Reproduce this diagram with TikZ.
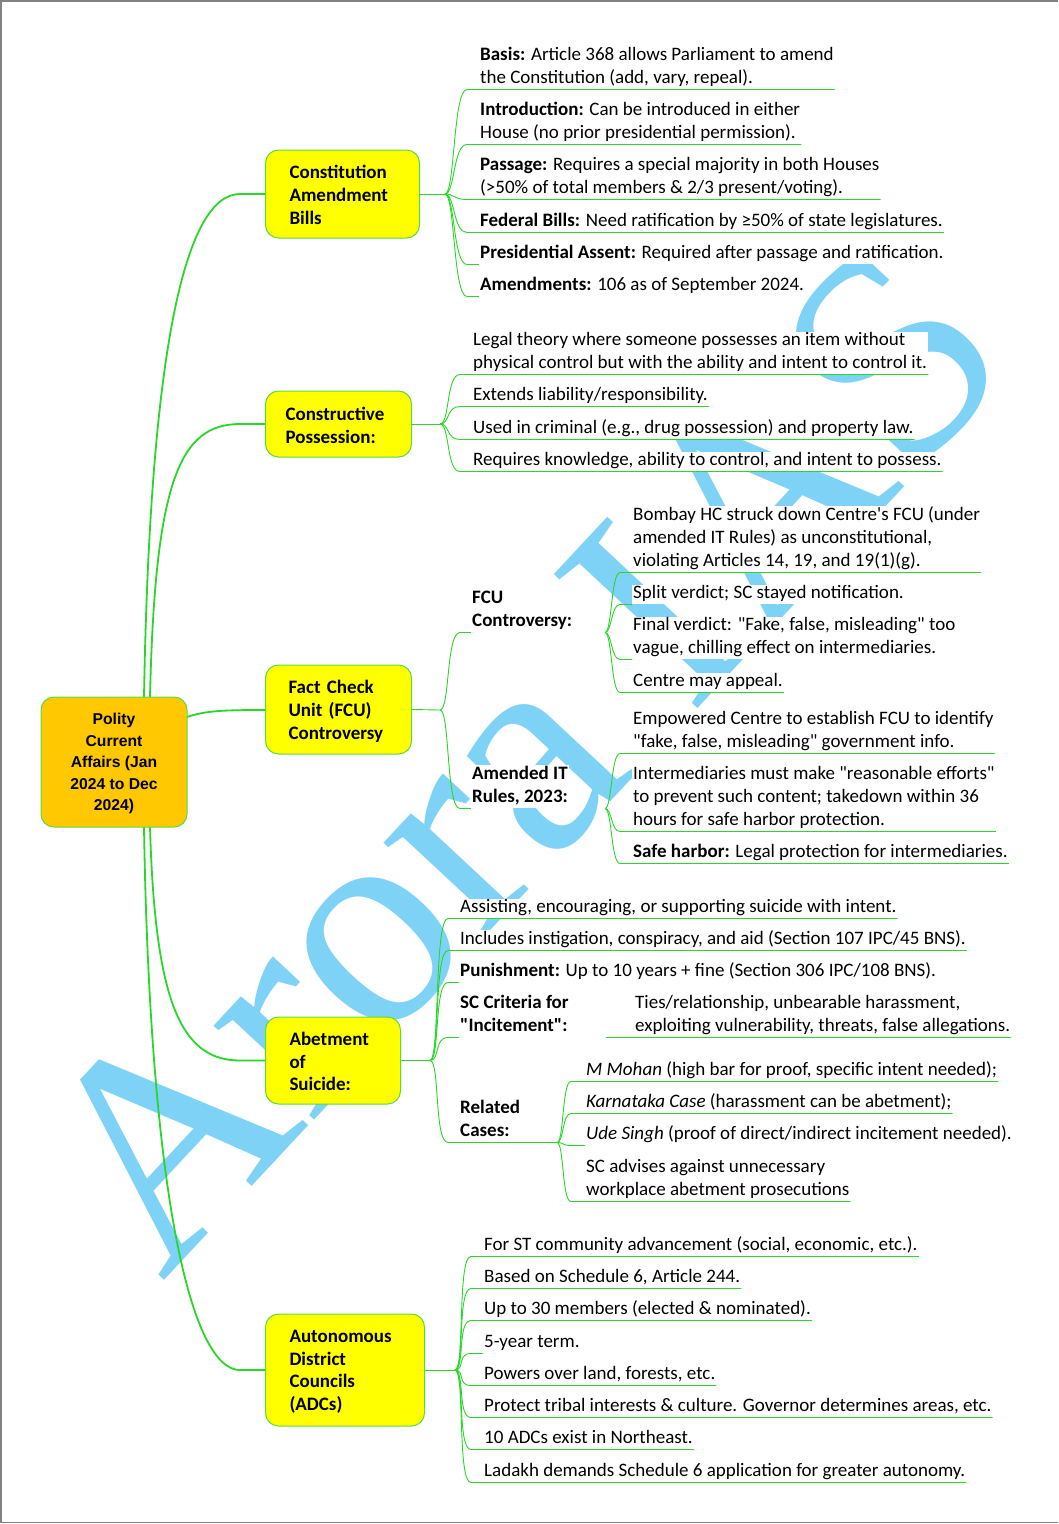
\documentclass[tikz,border=0pt]{standalone}
\usepackage{fontspec}
\setmainfont{Carlito}[Ligatures=TeXOff]
\newfontfamily\rootfont{Liberation Sans}
\newfontfamily\wmfont{Liberation Serif}
\definecolor{lnk}{RGB}{40,215,40}
\definecolor{bxline}{RGB}{90,220,60}
\definecolor{topicy}{RGB}{255,255,0}
\definecolor{rooto}{RGB}{255,200,0}
\definecolor{wmblue}{RGB}{126,210,246}
\definecolor{framegray}{RGB}{130,130,130}
\newcommand{\dst}{\rule[-4.5pt]{0pt}{4.5pt}}
\newcommand{\brch}[3]{\draw[sub] (#1) .. controls +(10,0) and +(-14,0) .. ([xshift=-#3pt]#2.south west) -- (#2.south east);}
\newcommand{\stb}[3]{\draw[sub] (#1) .. controls +(10,0) and +(-14,0) .. ([xshift=-#3pt]#2.south west) -- (#2.south west);}
\newcommand{\sbrch}[3]{\draw[sub] (#1) .. controls +(7,0) and +(-9,0) .. ([xshift=-#3pt]#2.south west) -- (#2.south east);}
\newcommand{\sstb}[3]{\draw[sub] (#1) .. controls +(7,0) and +(-9,0) .. ([xshift=-#3pt]#2.south west) -- (#2.south west);}
\begin{document}
\begin{tikzpicture}[x=1pt,y=-1pt,
 main/.style={draw=lnk, line width=1.8pt},
 sub/.style={draw=lnk, line width=0.9pt},
 topic/.style={draw=bxline, line width=1pt, fill=topicy, rounded corners=13pt, anchor=west, align=left,
   font=\fontsize{19}{23}\selectfont\bfseries, inner ysep=0pt},
 itm/.style={anchor=south west, inner xsep=1pt, inner ysep=1pt, align=left, fill=white,
   font=\fontsize{19}{23}\selectfont},
 sublabel/.style={itm, font=\fontsize{19}{23}\selectfont\bfseries},
]
\useasboundingbox (0,0) rectangle (1058,1524);
% watermark
\node[text=wmblue, font=\wmfont\fontsize{300}{300}\selectfont, rotate=47, inner sep=0pt] (wm) at (520,756) {Arora IAS};
% frame
\draw[framegray, line width=1.5pt] (1058,1) -- (1,1) -- (1,1522.5) -- (1058,1522.5);

% coordinates for forks
\coordinate (fc) at (445,194);
\coordinate (fp) at (440,424);
\coordinate (ff) at (440,710);
\coordinate (ffa) at (605,632.5);
\coordinate (ffb) at (605,808.5);
\coordinate (fa) at (430,1060.5);
\coordinate (far) at (557,1142.5);
\coordinate (fd) at (455,1370);

% main connectors
\coordinate (r1) at (144,697);
\coordinate (r2) at (150,697);
\coordinate (r3) at (150,827);
\coordinate (r4) at (144,827);
\coordinate (r5) at (187,717);
\draw[main] (r1) .. controls (150,350) and (185,194) .. (240,194) -- (265,194);
\draw[main] (r2) .. controls (155,480) and (180,424) .. (240,424) -- (265,424);
\draw[main] (r5) .. controls (205,711) and (220,710) .. (265,710);
\draw[main] (r3) .. controls (155,1000) and (180,1060.5) .. (240,1060.5) -- (265,1060.5);
\draw[main] (r4) .. controls (150,1200) and (192,1370) .. (240,1370) -- (265,1370);

% root
\node[draw=bxline, line width=1pt, fill=rooto, rounded corners=13pt, minimum width=146pt, minimum height=130pt,
  align=center, font=\rootfont\fontsize{15.7}{21.5}\selectfont\bfseries, inner sep=0pt]
  (root) at (114,762) {\strut Polity\\Current\\Affairs (Jan\\2024 to Dec\\2024)};

% topics
\node[topic, inner xsep=24pt, text width=106pt, minimum height=88pt] (cab) at (265,194) {\strut Constitution\\Amendment\\Bills};
\node[topic, inner xsep=20pt, text width=106pt, minimum height=66pt] (cp) at (265,424) {\strut Constructive\\Possession:};
\node[topic, inner xsep=23pt, text width=100pt, minimum height=89pt] (fcu) at (265,709.5) {\strut Fact Check\\Unit (FCU)\\Controversy};
\node[topic, inner xsep=24pt, text width=87pt, minimum height=87pt, font=\fontsize{19}{22.5}\selectfont\bfseries] (as) at (265,1060.5) {\strut Abetment\\of\\Suicide:};
\node[topic, inner xsep=24pt, text width=111pt, minimum height=112pt, font=\fontsize{19}{22.7}\selectfont\bfseries] (adc) at (265,1370) {\strut Autonomous\\District\\Councils\\(ADCs)};

% topic to fork
\draw[sub] (cab.east) -- (fc);
\draw[sub] (cp.east) -- (fp);
\draw[sub] (fcu.east) -- (ff);
\draw[sub] (as.east) -- (fa);
\draw[sub] (adc.east) -- (fd);

% Constitution items
\node[itm] (c1) at (479,89.5) {\textbf{Basis:} Article 368 allows Parliament to amend\\the Constitution (add, vary, repeal).\dst};
\node[itm] (c2) at (479,144.5) {\textbf{Introduction:} Can be introduced in either\\House (no prior presidential permission).\dst};
\node[itm] (c3) at (479,199.5) {\textbf{Passage:} Requires a special majority in both Houses\\(>50\% of total members \& 2/3 present/voting).\dst};
\node[itm] (c4) at (479,232.5) {\textbf{Federal Bills:} Need ratification by ≥50\% of state legislatures.\dst};
\node[itm] (c5) at (479,264.5) {\textbf{Presidential Assent:} Required after passage and ratification.\dst};
\node[itm] (c6) at (479,296.5) {\textbf{Amendments:} 106 as of September 2024.\dst};
\brch{fc}{c1}{12}
\brch{fc}{c2}{12}
\brch{fc}{c3}{12}
\brch{fc}{c4}{12}
\stb{fc}{c5}{12}
\stb{fc}{c6}{12}

% Constructive possession items
\node[itm] (p1) at (472,374.5) {Legal theory where someone possesses an item without\\physical control but with the ability and intent to control it.\dst};
\node[itm] (p2) at (472,406.5) {Extends liability/responsibility.\dst};
\node[itm] (p3) at (472,439.5) {Used in criminal (e.g., drug possession) and property law.\dst};
\node[itm] (p4) at (472,471.5) {Requires knowledge, ability to control, and intent to possess.\dst};
\brch{fp}{p1}{12}
\brch{fp}{p2}{12}
\brch{fp}{p3}{12}
\brch{fp}{p4}{12}

% FCU
\node[sublabel] (fl1) at (471,632.5) {FCU\\Controversy:\dst};
\node[sublabel] (fl2) at (471,808.5) {Amended IT\\Rules, 2023:\dst};
\stb{ff}{fl1}{11}
\stb{ff}{fl2}{11}
\node[itm] (f1) at (632,572.5) {Bombay HC struck down Centre's FCU (under\\amended IT Rules) as unconstitutional,\\violating Articles 14, 19, and 19(1)(g).\dst};
\node[itm] (f2) at (632,604.5) {Split verdict; SC stayed notification.\dst};
\node[itm] (f3) at (632,659.5) {Final verdict: "Fake, false, misleading" too\\vague, chilling effect on intermediaries.\dst};
\node[itm] (f4) at (632,692.5) {Centre may appeal.\dst};
\sbrch{ffa}{f1}{12}
\sstb{ffa}{f2}{12}
\sstb{ffa}{f3}{12}
\sbrch{ffa}{f4}{12}
\node[itm] (g1) at (632,753.5) {Empowered Centre to establish FCU to identify\\"fake, false, misleading" government info.\dst};
\node[itm] (g2) at (632,831.5) {Intermediaries must make "reasonable efforts"\\to prevent such content; takedown within 36\\hours for safe harbor protection.\dst};
\node[itm] (g3) at (632,863.5) {\textbf{Safe harbor:} Legal protection for intermediaries.\dst};
\sbrch{ffb}{g1}{12}
\sbrch{ffb}{g2}{12}
\sbrch{ffb}{g3}{12}

% Abetment
\node[itm] (a1) at (459,918.5) {Assisting, encouraging, or supporting suicide with intent.\dst};
\node[itm] (a2) at (459,950.5) {Includes instigation, conspiracy, and aid (Section 107 IPC/45 BNS).\dst};
\node[itm] (a3) at (459,982.5) {\textbf{Punishment:} Up to 10 years + fine (Section 306 IPC/108 BNS).\dst};
\node[sublabel] (a4) at (459,1037.5) {SC Criteria for\\"Incitement":\dst};
\node[itm] (a4t) at (634,1037.5) {Ties/relationship, unbearable harassment,\\exploiting vulnerability, threats, false allegations.\dst};
\node[sublabel] (a5) at (459,1142.5) {Related\\Cases:\dst};
\brch{fa}{a1}{11}
\brch{fa}{a2}{11}
\stb{fa}{a3}{11}
\stb{fa}{a4}{11}
\draw[sub] ([xshift=-28pt]a4t.south west) -- (a4t.south east);
\draw[sub] (fa) .. controls +(10,0) and +(-14,0) .. ([xshift=-11pt]a5.south west) -- (far);
\node[itm] (k1) at (585,1081.5) {\textit{M Mohan} (high bar for proof, specific intent needed);\dst};
\node[itm] (k2) at (585,1113.5) {\textit{Karnataka Case} (harassment can be abetment);\dst};
\node[itm] (k3) at (585,1145.5) {\textit{Ude Singh} (proof of direct/indirect incitement needed).\dst};
\node[itm] (k4) at (585,1201.5) {SC advises against unnecessary\\workplace abetment prosecutions\dst};
\sbrch{far}{k1}{14}
\sbrch{far}{k2}{14}
\sstb{far}{k3}{14}
\sbrch{far}{k4}{14}

% ADC
\node[itm] (d1) at (483,1256.5) {For ST community advancement (social, economic, etc.).\dst};
\node[itm] (d2) at (483,1288.5) {Based on Schedule 6, Article 244.\dst};
\node[itm] (d3) at (483,1320.5) {Up to 30 members (elected \& nominated).\dst};
\node[itm] (d4) at (483,1353.5) {5-year term.\dst};
\node[itm] (d5) at (483,1385.5) {Powers over land, forests, etc.\dst};
\node[itm] (d6) at (483,1417.5) {Protect tribal interests \& culture. Governor determines areas, etc.\dst};
\node[itm] (d7) at (483,1449.5) {10 ADCs exist in Northeast.\dst};
\node[itm] (d8) at (483,1482.5) {Ladakh demands Schedule 6 application for greater autonomy.\dst};
\brch{fd}{d1}{12}
\brch{fd}{d2}{12}
\brch{fd}{d3}{12}
\stb{fd}{d4}{12}
\brch{fd}{d5}{12}
\brch{fd}{d6}{12}
\brch{fd}{d7}{12}
\brch{fd}{d8}{12}
\end{tikzpicture}
\end{document}
